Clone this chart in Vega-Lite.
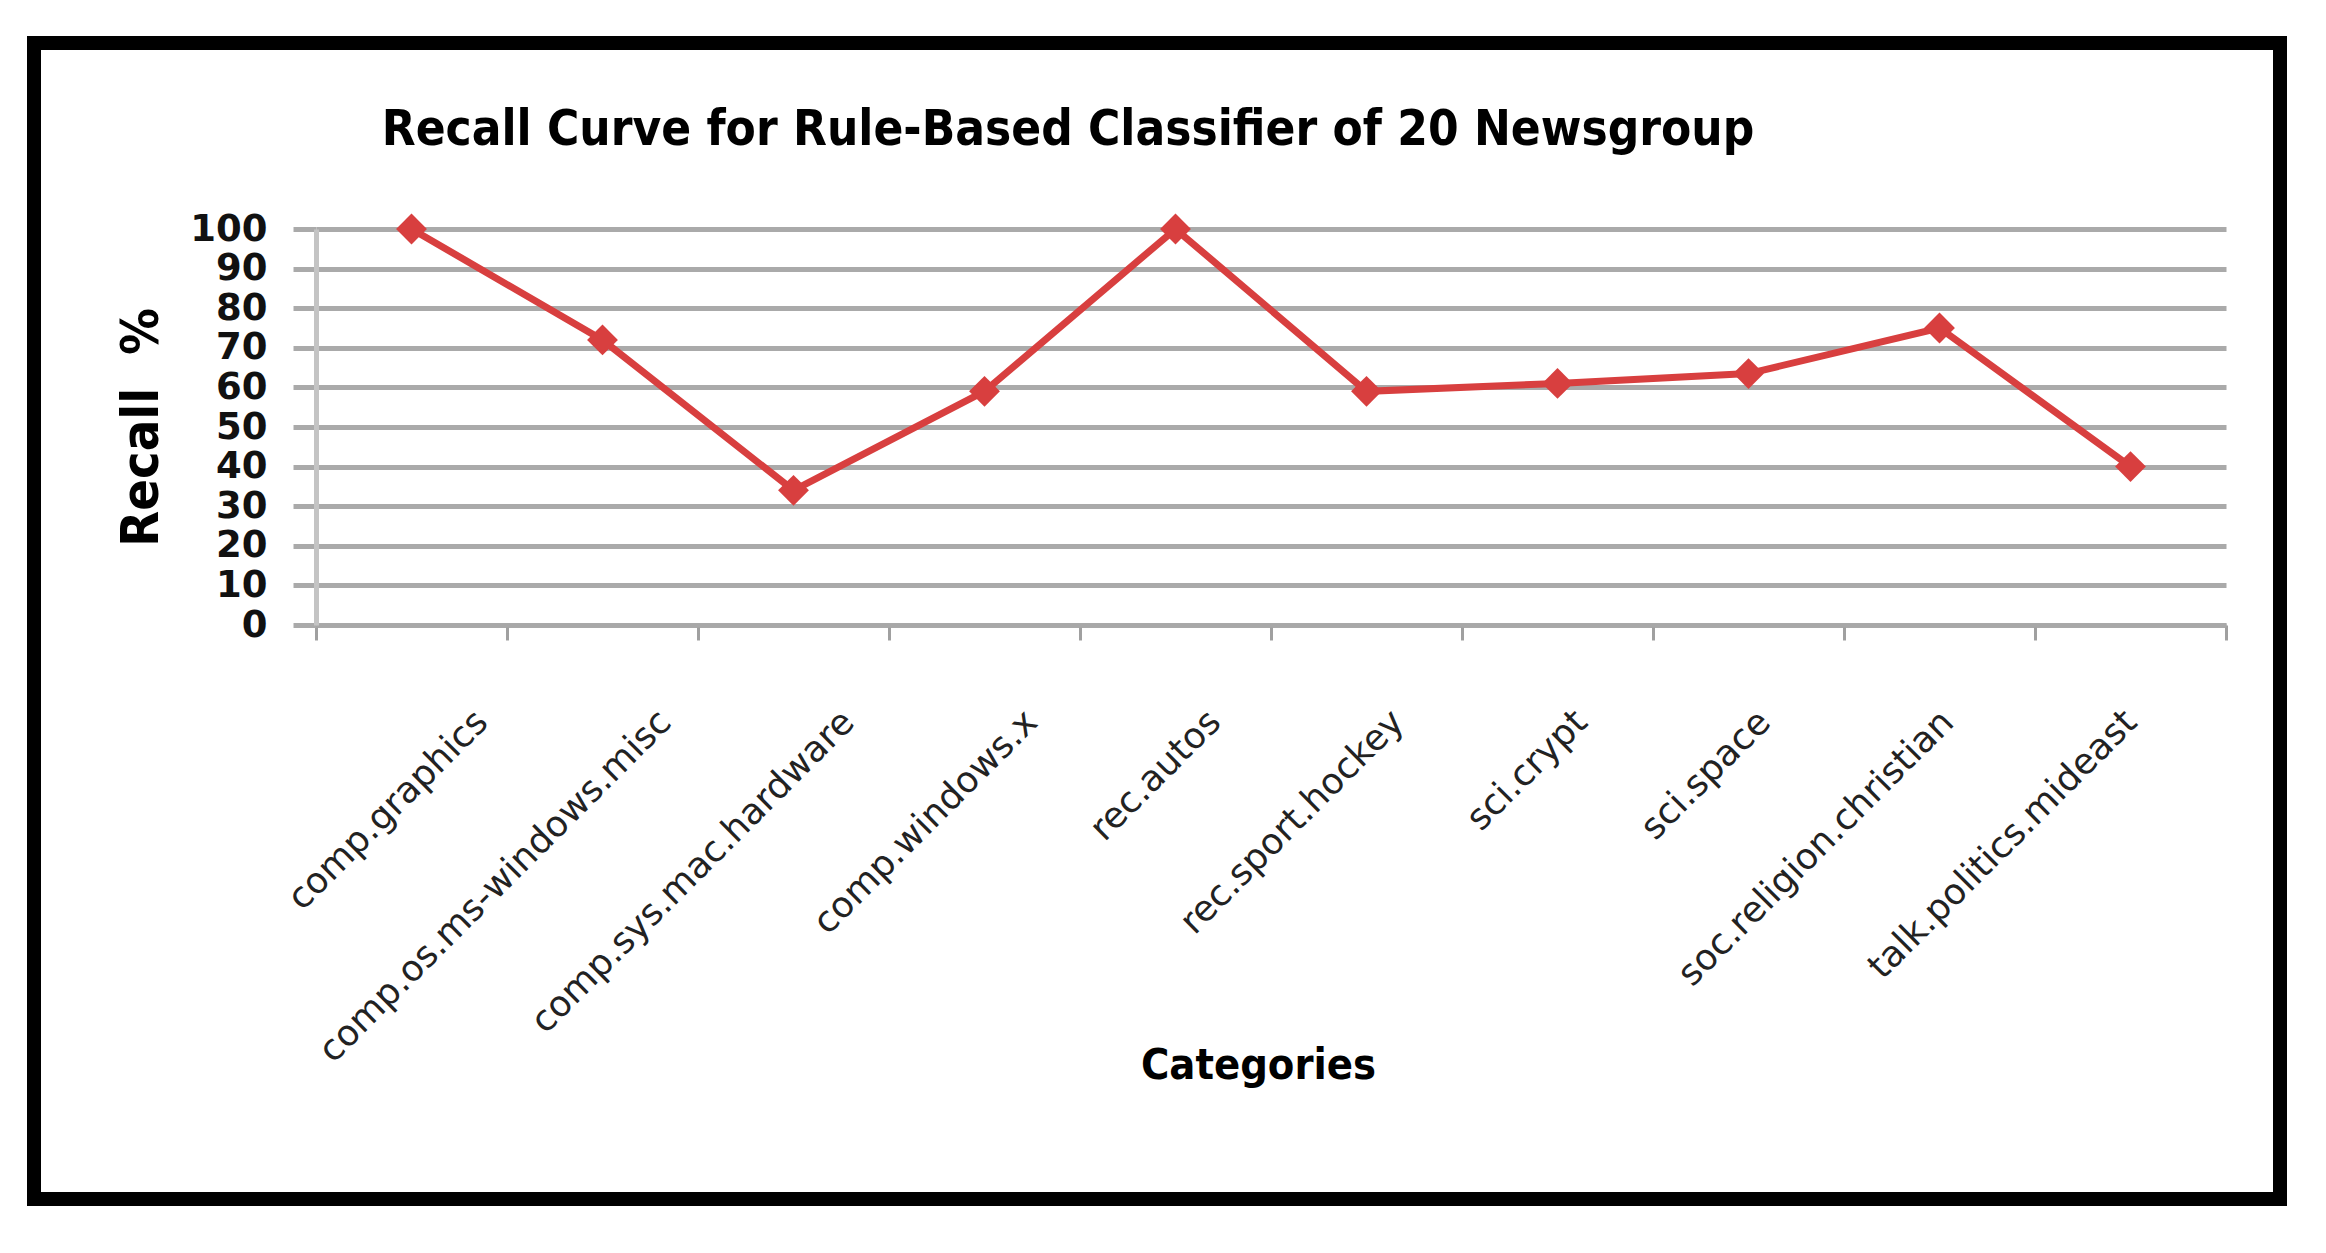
{
  "$schema": "https://vega.github.io/schema/vega-lite/v6.json",
  "autosize": {"type": "none"},
  "padding": {"left": 34, "top": 43, "right": 46, "bottom": 54},
  "width": 2246,
  "height": 1156,
  "background": "white",
  "title": {
    "text": "Recall Curve for Rule-Based Classifier of  20 Newsgroup",
    "anchor": "middle",
    "frame": "group",
    "orient": "top",
    "offset": -151,
    "baseline": "alphabetic",
    "dx": -89,
    "font": "Liberation Sans Narrow, DejaVu Sans Condensed, Liberation Sans",
    "fontSize": 49,
    "fontWeight": "bold",
    "color": "#000000"
  },
  "data": {
    "values": [
      {"category": "comp.graphics", "recall": 100},
      {"category": "comp.os.ms-windows.misc", "recall": 72},
      {"category": "comp.sys.mac.hardware", "recall": 34},
      {"category": "comp.windows.x", "recall": 59},
      {"category": "rec.autos", "recall": 100},
      {"category": "rec.sport.hockey", "recall": 59},
      {"category": "sci.crypt", "recall": 61},
      {"category": "sci.space", "recall": 63.5},
      {"category": "soc.religion.christian", "recall": 75},
      {"category": "talk.politics.mideast", "recall": 40}
    ]
  },
  "mark": {
    "type": "line",
    "color": "#d83f3f",
    "strokeWidth": 7,
    "point": {"shape": "diamond", "size": 950, "filled": true, "color": "#d83f3f", "opacity": 1}
  },
  "encoding": {
    "x": {
      "field": "category",
      "type": "nominal",
      "sort": null,
      "scale": {"type": "band", "range": [282, 2192], "paddingInner": 0, "paddingOuter": 0},
      "axis": {
        "title": "Categories",
        "offset": -574,
        "tickBand": "extent",
        "grid": false,
        "domainColor": "#a8a8a8",
        "domainWidth": 4,
        "tickColor": "#a0a0a0",
        "tickWidth": 3,
        "tickSize": 15,
        "labelAngle": -45,
        "labelAlign": "right",
        "labelBaseline": "middle",
        "labelPadding": 76,
        "labelOffset": {"expr": "70 - 70*indexof(domain('x'), datum.value)/9"},
        "labelFont": "DejaVu Sans",
        "labelFontSize": 36,
        "labelColor": "#222222",
        "labelOverlap": false,
        "labelLimit": 1000,
        "titleFont": "Liberation Sans Narrow, DejaVu Sans Condensed, Liberation Sans",
        "titleFontSize": 43,
        "titleFontWeight": "bold",
        "titleColor": "#000000",
        "titleBaseline": "alphabetic",
        "titleX": 1224,
        "titleY": 453
      }
    },
    "y": {
      "field": "recall",
      "type": "quantitative",
      "scale": {"domain": [0, 100], "range": [582, 186], "nice": false, "zero": true},
      "axis": {
        "title": "Recall\u00a0\u00a0%",
        "offset": -282,
        "values": [0, 10, 20, 30, 40, 50, 60, 70, 80, 90, 100],
        "grid": true,
        "gridColor": "#aaaaaa",
        "gridWidth": 5,
        "gridOpacity": 1,
        "domainColor": "#c4c4c4",
        "domainWidth": 5,
        "tickColor": "#aaaaaa",
        "tickWidth": 5,
        "tickSize": 23,
        "labelPadding": 26,
        "labelFont": "DejaVu Sans",
        "labelFontSize": 37,
        "labelFontWeight": "bold",
        "labelColor": "#111111",
        "labelOverlap": false,
        "titleFont": "Liberation Sans Narrow, DejaVu Sans Condensed, Liberation Sans",
        "titleFontSize": 52,
        "titleFontWeight": "bold",
        "titleColor": "#000000",
        "titleAngle": -90,
        "titleBaseline": "alphabetic",
        "titleX": -159
      }
    }
  },
  "config": {
    "view": {"stroke": "#000000", "strokeWidth": 14, "fill": "white"}
  }
}
